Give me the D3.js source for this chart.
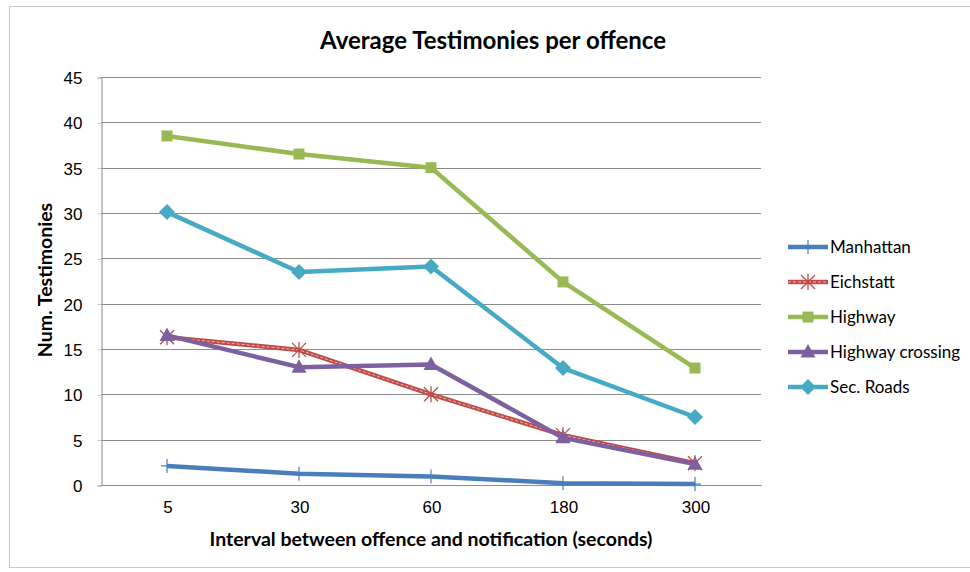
<!DOCTYPE html>
<html>
<head>
<meta charset="utf-8">
<script src="https://cdn.jsdelivr.net/npm/d3@7/dist/d3.min.js"></script>
<style>
  html, body { margin: 0; padding: 0; background: #fff; }
  svg { display: block; font-family: Lato, "Open Sans", sans-serif; }
</style>
</head>
<body>
<svg id="chart" width="970" height="572"></svg>
<script>
// Interval categories (seconds) on the x axis
const intervals = ["5", "30", "60", "180", "300"];
const seriesNames = ["Manhattan", "Eichstatt", "Highway", "Highway crossing", "Sec. Roads"];
// Average testimonies per offence for each scenario
const manhattan = [2.1, 1.25, 0.95, 0.2, 0.1];
const eichstatt = [16.3, 14.9, 10.0, 5.5, 2.4];
const highway = [38.5, 36.5, 35.0, 22.4, 12.9];
const highwayCrossing = [16.5, 13.0, 13.3, 5.2, 2.3];
const secRoads = [30.1, 23.5, 24.1, 12.9, 7.5];
const yTicks = [0, 5, 10, 15, 20, 25, 30, 35, 40, 45];

const seriesValues = [manhattan, eichstatt, highway, highwayCrossing, secRoads];
const colors = ["#4a7ebb", "#be4b48", "#98b954", "#7d60a0", "#46aac5"];
const markers = ["plus", "asterisk", "square", "triangle", "diamond"];

const svg = d3.select("#chart");

// chart frame
svg.append("rect")
  .attr("x", 9.5).attr("y", 6.5).attr("width", 970).attr("height", 561)
  .attr("fill", "#fff").attr("stroke", "#c8c8c8").attr("stroke-width", 1);

const plot = { left: 101, right: 761, top: 77, bottom: 485 };

const x = d3.scalePoint().domain(intervals).range([plot.left, plot.right]).padding(0.5);
const y = d3.scaleLinear().domain([0, 45]).range([plot.bottom, plot.top]);

// horizontal gridlines
svg.append("g").selectAll("line").data(yTicks.filter(d => d > 0)).join("line")
  .attr("x1", plot.left).attr("x2", plot.right)
  .attr("y1", d => Math.round(y(d)) + 0.5).attr("y2", d => Math.round(y(d)) + 0.5)
  .attr("stroke", "#8c8c8c").attr("stroke-width", 1);

// y axis
const yAxis = svg.append("g").attr("transform", `translate(${plot.left + 0.5},0.5)`)
  .call(d3.axisLeft(y).tickValues(yTicks).tickSize(4).tickPadding(15).tickFormat(d3.format("d")));
yAxis.select(".domain").attr("stroke", "#8c8c8c");
yAxis.selectAll(".tick line").attr("stroke", "#c8c8c8");
yAxis.selectAll("text").attr("font-size", 17).attr("fill", "#000").attr("dy", "0.35em");

// x axis
const xAxis = svg.append("g").attr("transform", `translate(0.5,${Math.round(plot.bottom) + 0.5})`)
  .call(d3.axisBottom(x).tickSize(0).tickPadding(15));
xAxis.select(".domain").attr("stroke", "#8c8c8c").attr("d", `M${plot.left},0H${plot.right}`);
xAxis.selectAll("text").attr("font-size", 17).attr("fill", "#000");

// titles
svg.append("text").attr("x", 493).attr("y", 49).attr("text-anchor", "middle")
  .attr("font-size", 24).attr("font-weight", "bold").text("Average Testimonies per offence");
svg.append("text").attr("x", 431).attr("y", 546).attr("text-anchor", "middle")
  .attr("font-size", 19.5).attr("font-weight", "bold")
  .text("Interval between offence and notification (seconds)");
svg.append("text").attr("transform", "translate(52,280) rotate(-90)").attr("text-anchor", "middle")
  .attr("font-size", 19.5).attr("font-weight", "bold").text("Num. Testimonies");

function drawMarker(g, kind, color, cx, cy) {
  if (kind === "plus") {
    g.append("path").attr("d", `M${cx},${cy - 7}V${cy + 7}M${cx - 6},${cy}H${cx + 6}`)
      .attr("stroke", color).attr("stroke-width", 1.2).attr("fill", "none");
  } else if (kind === "asterisk") {
    const r = 7;
    g.append("path").attr("d",
      `M${cx - r},${cy - r}L${cx + r},${cy + r}M${cx - r},${cy + r}L${cx + r},${cy - r}M${cx},${cy - r - 1}V${cy + r + 1}`)
      .attr("stroke", color).attr("stroke-width", 1.3).attr("fill", "none");
  } else if (kind === "square") {
    g.append("rect").attr("x", cx - 5.5).attr("y", cy - 5.5).attr("width", 11).attr("height", 11)
      .attr("fill", color);
  } else if (kind === "triangle") {
    g.append("path").attr("d", `M${cx},${cy - 8}L${cx + 7.5},${cy + 5.5}L${cx - 7.5},${cy + 5.5}Z`)
      .attr("fill", color);
  } else if (kind === "diamond") {
    g.append("path").attr("d", `M${cx},${cy - 8}L${cx + 8},${cy}L${cx},${cy + 8}L${cx - 8},${cy}Z`)
      .attr("fill", color);
  }
}

const line = d3.line().x((d, i) => x(intervals[i])).y(d => y(d));

seriesValues.forEach((vals, si) => {
  const g = svg.append("g");
  g.append("path").datum(vals).attr("d", line)
    .attr("fill", "none").attr("stroke", colors[si]).attr("stroke-width", 4.5)
    .attr("stroke-linejoin", "round");
  if (markers[si] === "asterisk") {
    g.append("path").datum(vals).attr("d", line)
      .attr("fill", "none").attr("stroke", "#f0b4b2").attr("stroke-width", 1)
      .attr("stroke-dasharray", "3,2");
  }
  vals.forEach((v, i) => drawMarker(g, markers[si], colors[si], x(intervals[i]), y(v)));
});

// legend
const legend = svg.append("g");
seriesNames.forEach((name, i) => {
  const ly = 247 + i * 35;
  legend.append("line").attr("x1", 788).attr("x2", 828).attr("y1", ly).attr("y2", ly)
    .attr("stroke", colors[i]).attr("stroke-width", 4.5);
  if (markers[i] === "asterisk") {
    legend.append("line").attr("x1", 788).attr("x2", 828).attr("y1", ly).attr("y2", ly)
      .attr("stroke", "#f0b4b2").attr("stroke-width", 1).attr("stroke-dasharray", "3,2");
  }
  drawMarker(legend, markers[i], colors[i], 808, ly);
  legend.append("text").attr("x", 830).attr("y", ly).attr("dy", "0.35em")
    .attr("font-size", 17).attr("fill", "#000").text(name);
});
</script>
</body>
</html>
